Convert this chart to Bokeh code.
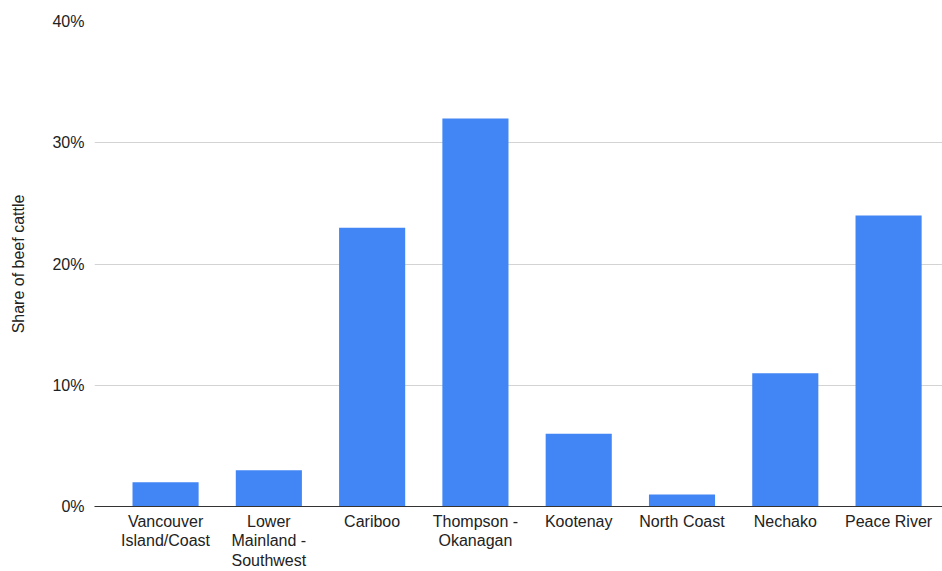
from bokeh.plotting import figure
from bokeh.models import Range1d, FixedTicker, NumeralTickFormatter, ColumnDataSource
from bokeh.embed import file_html
from bokeh.resources import INLINE

categories = ["Vancouver\nIsland/Coast", "Lower\nMainland -\nSouthwest", "Cariboo",
              "Thompson -\nOkanagan", "Kootenay", "North Coast", "Nechako", "Peace River"]
share_pct = [2, 3, 23, 32, 6, 1, 11, 24]
y_ticks = [0, 0.1, 0.2, 0.3, 0.4]

x_pos = list(range(len(categories)))
source = ColumnDataSource(dict(x=x_pos, top=[v / 100 for v in share_pct]))

FONT = "Liberation Sans"

p = figure(width=942, height=571, output_backend="svg", toolbar_location=None,
           x_range=Range1d(-0.688, 7.522), y_range=Range1d(0, 0.4),
           min_border_left=94, min_border_right=0, min_border_top=21, min_border_bottom=64)

p.vbar(x="x", top="top", width=0.64, source=source, color="#4285F4", line_color=None)

p.outline_line_color = None
p.background_fill_color = "white"
p.border_fill_color = "white"

p.xgrid.grid_line_color = None
p.ygrid.grid_line_color = "#d3d3d3"
p.ygrid.grid_line_width = 1

xa = p.xaxis[0]
xa.ticker = FixedTicker(ticks=x_pos)
xa.major_label_overrides = {i: c for i, c in zip(x_pos, categories)}
xa.axis_line_color = "#333333"
xa.major_tick_line_color = None
xa.minor_tick_line_color = None
xa.major_label_text_font = FONT
xa.major_label_text_font_size = "16px"
xa.major_label_text_line_height = 1.15
xa.major_label_text_color = "#222222"
xa.major_label_standoff = 0

ya = p.yaxis[0]
ya.ticker = FixedTicker(ticks=y_ticks)
ya.formatter = NumeralTickFormatter(format="0%")
ya.axis_line_color = None
ya.major_tick_line_color = None
ya.minor_tick_line_color = None
ya.major_label_text_font = FONT
ya.major_label_text_font_size = "16px"
ya.major_label_text_color = "#222222"
ya.major_label_standoff = 4
ya.axis_label = "Share of beef cattle"
ya.axis_label_text_font = FONT
ya.axis_label_text_font_size = "16px"
ya.axis_label_text_font_style = "normal"
ya.axis_label_text_color = "#222222"
ya.axis_label_standoff = 22

open("out.html", "w").write(file_html(p, INLINE))
